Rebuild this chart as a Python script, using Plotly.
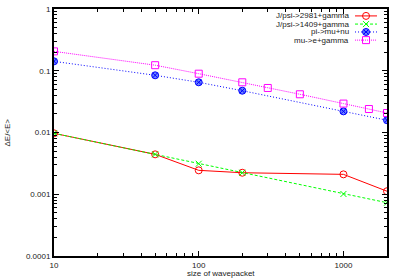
import plotly.graph_objects as go

# ---- data ----
x_jpsi2981 = [10, 50, 100, 200, 1000, 2000]
y_jpsi2981 = [0.0097, 0.00443, 0.00244, 0.00223, 0.0021, 0.00112]

x_jpsi1409 = [10, 50, 100, 200, 1000, 2000]
y_jpsi1409 = [0.0097, 0.00443, 0.00312, 0.00223, 0.00101, 0.00073]

x_pimunu = [10, 50, 100, 200, 1000, 2000]
y_pimunu = [0.142, 0.0844, 0.065, 0.0475, 0.022, 0.0158]

x_muegamma = [10, 50, 100, 200, 300, 500, 1000, 1500, 2000]
y_muegamma = [0.206, 0.123, 0.0896, 0.065, 0.0526, 0.0416, 0.0294, 0.024, 0.0207]

series_names = ["J/psi->2981+gamma", "J/psi->1409+gamma", "pi->mu+nu", "mu->e+gamma"]

x_tickvals = [10, 100, 1000]
x_ticktext = ["10", "100", "1000"]
y_tickvals = [1, 0.1, 0.01, 0.001, 0.0001]
y_ticktext = ["1", "0.1", "0.01", "0.001", "0.0001"]

x_title = "size of wavepacket"
y_title = "ΔE/<E>"

FONT = "Liberation Sans, Arial, sans-serif"

styles = [
    dict(color="#ff0000", dash="solid", symbol="circle-open", size=7, fill="#ff0000"),
    dict(color="#00ff00", dash="3px,2px", symbol="x-thin-open", size=6, fill="#00ff00"),
    dict(color="#0000ff", dash="1px,2px", symbol="circle-x", size=7, fill="rgba(60,90,255,0.75)"),
    dict(color="#ff00ff", dash="1px,1px", symbol="square-open", size=7, fill="#ff00ff"),
]
data = [(x_jpsi2981, y_jpsi2981), (x_jpsi1409, y_jpsi1409),
        (x_pimunu, y_pimunu), (x_muegamma, y_muegamma)]

fig = go.Figure()
for (xs, ys), st, name in zip(data, styles, series_names):
    fig.add_trace(go.Scatter(
        x=xs, y=ys, mode="lines+markers", name=name, showlegend=False,
        line=dict(color=st["color"], width=1, dash=st["dash"]),
        marker=dict(symbol=st["symbol"], size=st["size"], color=st["fill"],
                    line=dict(color=st["color"], width=1)),
    ))

# custom gnuplot-style legend (text right-aligned, sample on the right)
row_y = [0.972, 0.939, 0.907, 0.874]
for st, name, ry in zip(styles, series_names, row_y):
    fig.add_trace(go.Scatter(
        x=[0.904, 0.970], y=[ry, ry], mode="lines", xaxis="x2", yaxis="y2",
        showlegend=False, hoverinfo="skip",
        line=dict(color=st["color"], width=1, dash=st["dash"]),
    ))
    fig.add_trace(go.Scatter(
        x=[0.937], y=[ry], mode="markers", xaxis="x2", yaxis="y2",
        showlegend=False, hoverinfo="skip",
        marker=dict(symbol=st["symbol"], size=st["size"], color=st["fill"],
                    line=dict(color=st["color"], width=1)),
    ))
    fig.add_annotation(x=0.889, y=ry, xref="paper", yref="paper",
                       xanchor="right", yanchor="middle", showarrow=False,
                       borderpad=0,
                       text=name, font=dict(size=8, color="#222", family=FONT))

# axis titles as annotations for exact placement
fig.add_annotation(x=0.5, y=-0.07, xref="paper", yref="paper",
                   xanchor="center", yanchor="middle", showarrow=False, borderpad=0,
                   text=x_title, font=dict(size=8, color="#222", family=FONT))
fig.add_annotation(x=-0.141, y=0.5, xref="paper", yref="paper",
                   xanchor="center", yanchor="middle", showarrow=False, textangle=-90,
                   borderpad=0,
                   text=y_title, font=dict(size=8, color="#222", family=FONT))

axis_common = dict(
    showline=True, linecolor="black", linewidth=2, mirror="ticks",
    ticks="inside", ticklen=5, tickwidth=1, tickcolor="black",
    showgrid=False, zeroline=False, automargin=False,
    tickfont=dict(size=8, color="#222", family=FONT),
)

fig.update_layout(
    width=400, height=280,
    margin=dict(l=54, r=13, t=9, b=24),
    paper_bgcolor="white", plot_bgcolor="white",
    font=dict(family=FONT, size=8, color="#222"),
    xaxis=dict(type="log", range=[1, 3.30103],
               tickvals=x_tickvals, ticktext=x_ticktext,
               minor=dict(ticks="inside", ticklen=3, tickwidth=1, tickcolor="black", dtick="D1"),
               **axis_common),
    yaxis=dict(type="log", range=[-4, 0],
               tickvals=y_tickvals, ticktext=y_ticktext,
               minor=dict(ticks="inside", ticklen=3, tickwidth=1, tickcolor="black", dtick="D1"),
               **axis_common),
    xaxis2=dict(overlaying="x", range=[0, 1], visible=False, fixedrange=True),
    yaxis2=dict(overlaying="y", range=[0, 1], visible=False, fixedrange=True),
    showlegend=False,
)

fig.write_html("out.html", config={"displayModeBar": False, "staticPlot": True},
               post_script="document.body.style.margin='0';document.body.style.overflow='hidden';")
